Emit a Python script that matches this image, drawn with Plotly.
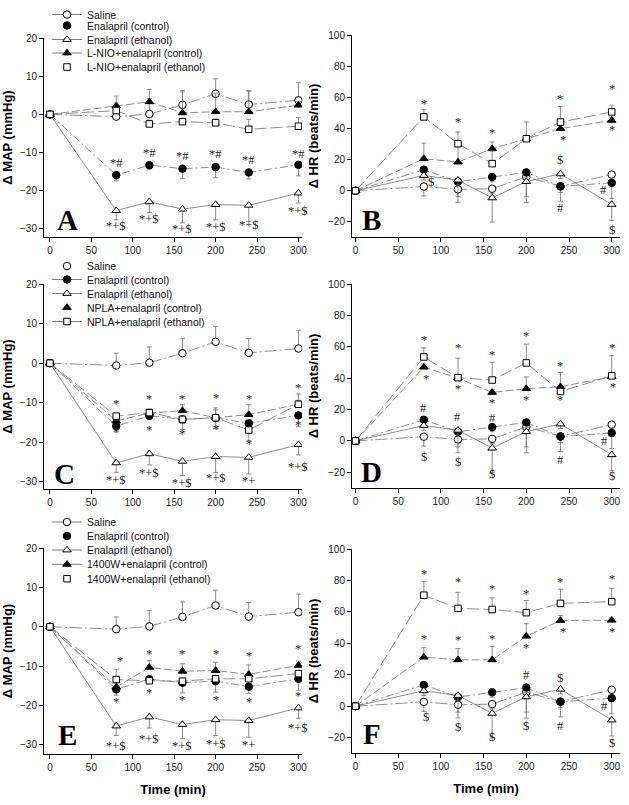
import plotly.graph_objects as go

W, H = 629, 805

# ---------------- data ----------------
TIME = [0, 80, 120, 160, 200, 240, 300]
X_TICKS = [0, 50, 100, 150, 200, 250, 300]
MAP_TICKS = [-30, -20, -10, 0, 10, 20]
HR_TICKS = [-20, 0, 20, 40, 60, 80, 100]

# MAP (mmHg) - common groups
saline_map = [0, -0.6, 0.1, 2.5, 5.4, 2.6, 3.7]
saline_map_up = [0, 3.1, 4.0, 3.8, 3.9, 3.6, 4.6]
enal_ctrl_map = [0, -15.9, -13.3, -14.2, -13.8, -15.2, -13.2]
enal_ctrl_map_dn = [0, 1.5, 1.0, 2.6, 2.8, 1.7, 2.9]
enal_eth_map = [0, -25.2, -22.9, -24.8, -23.6, -23.8, -20.6]
enal_eth_map_dn = [0, 2.4, 2.8, 3.6, 4.0, 4.2, 2.6]

# HR (beats/min) - common groups
saline_hr = [0, 2.7, 0.9, 1.3, 8.9, 2.9, 10.4]
saline_hr_dn = [0, 6.0, 4.7, 3.0, 12.7, 4.0, 4.0]
enal_ctrl_hr = [0, 13.5, 5.8, 8.8, 11.8, 2.8, 5.1]
enal_ctrl_hr_dn = [0, 3.0, 13.3, 3.0, 3.0, 9.6, 10.0]
enal_eth_hr = [0, 9.8, 6.8, -4.6, 5.9, 10.8, -8.8]
enal_eth_hr_dn = [0, 3.0, 3.0, 15.5, 13.5, 3.0, 10.2]

# L-NIO (panels A, B)
lnio_ctrl_map = [0, 2.2, 3.3, 0.4, 0.7, 0.7, 2.4]
lnio_ctrl_map_up = [0, 2.6, 3.2, 5.5, 4.8, 5.4, 1.0]
lnio_eth_map = [0, 1.0, -2.5, -1.9, -2.2, -3.9, -3.1]
lnio_eth_map_up = [0, 0.8, 1.0, 0.8, 1.0, 2.6, 2.3]
lnio_ctrl_hr = [0, 20.6, 18.4, 27.0, 33.4, 39.9, 45.2]
lnio_ctrl_hr_up = [0, 10.0, 11.0, 4.3, 2.0, 3.0, 2.0]
lnio_eth_hr = [0, 47.4, 30.2, 17.4, 33.4, 44.1, 50.6]
lnio_eth_hr_up = [0, 4.6, 7.5, 8.0, 10.7, 10.0, 4.3]

# NPLA (panels C, D)
npla_ctrl_map = [0, -14.6, -12.6, -12.0, -13.8, -13.0, -10.4]
npla_ctrl_map_up = [0, 1.0, 1.0, 1.6, 2.5, 2.5, 1.0]
npla_eth_map = [0, -13.4, -12.5, -14.2, -13.8, -16.9, -10.4]
npla_eth_map_up = [0, 0, 0, 0, 2.0, 0, 2.6]
npla_eth_map_dn = [0, 1.0, 0.8, 1.0, 0, 2.7, 0]
npla_ctrl_hr = [0, 47.0, 40.0, 30.9, 33.3, 34.5, 41.0]
npla_ctrl_hr_up = [0, 2.0, 2.0, 2.0, 7.5, 9.1, 2.0]
npla_eth_hr = [0, 53.5, 40.3, 38.8, 49.7, 31.5, 41.5]
npla_eth_hr_up = [0, 5.8, 12.4, 11.3, 12.0, 2.0, 12.8]

# 1400W (panels E, F)
w1400_ctrl_map = [0, -15.3, -10.3, -11.3, -11.1, -12.1, -9.8]
w1400_ctrl_map_up = [0, 1.0, 1.7, 1.9, 2.1, 2.4, 1.1]
w1400_eth_map = [0, -13.4, -13.7, -13.8, -13.2, -13.2, -11.9]
w1400_eth_map_up = [0, 2.6, 0.5, 0.5, 0.5, 0.5, 0.5]
w1400_ctrl_hr = [0, 31.2, 29.5, 29.5, 44.5, 54.5, 54.7]
w1400_ctrl_hr_up = [0, 6.0, 7.1, 8.5, 8.0, 3.2, 1.0]
w1400_eth_hr = [0, 70.6, 62.2, 61.5, 59.5, 65.4, 66.5]
w1400_eth_hr_up = [0, 8.6, 10.2, 7.4, 7.7, 9.0, 8.5]

# significance labels (text, time, value)
SIG_A = [("*#", 80, -12.6), ("*#", 120, -10.1), ("*#", 160, -11.0), ("*#", 200, -10.3),
         ("*#", 240, -12.0), ("*#", 300, -10.3),
         ("*+$", 80, -29.2), ("*+$", 120, -27.3), ("*+$", 160, -30.0), ("*+$", 200, -29.4),
         ("*+$", 240, -29.0), ("*+$", 300, -25.3)]
SIG_B = [("*", 80, 55.9), ("*", 120, 44.1), ("*", 160, 37.1), ("*", 240, 59.1), ("*", 300, 65.6),
         ("*", 243, 32.4), ("*", 300, 38.8),
         ("$", 88, 5.6), ("$", 240, 19.5), ("#", 240, -11.1), ("#", 290, 0.2), ("$", 300, -25.5)]
SIG_C = [("*", 80, -10.4), ("*", 120, -9.1), ("*", 160, -9.1), ("*", 200, -8.7), ("*", 240, -9.1),
         ("*", 300, -6.3),
         ("*", 80, -17.5), ("*", 120, -17.0), ("*", 160, -18.0), ("*", 200, -16.6), ("*", 240, -20.4),
         ("*", 300, -15.6),
         ("*+$", 80, -29.5), ("*+$", 120, -27.7), ("*+$", 160, -30.4), ("*+$", 200, -29.1),
         ("*+", 240, -29.7), ("*+$", 300, -26.3)]
SIG_D = [("*", 80, 64.4), ("*", 120, 59.5), ("*", 160, 54.8), ("*", 200, 66.9), ("*", 240, 47.8),
         ("*", 300, 59.5),
         ("*", 83, 39.3), ("*", 120, 33.0), ("*", 160, 24.0), ("*", 200, 26.1), ("*", 240, 26.1),
         ("*", 302, 34.6),
         ("#", 80, 20.7), ("#", 120, 15.0), ("#", 160, 14.5),
         ("$", 80, -10.1), ("$", 120, -13.3), ("$", 160, -21.2),
         ("#", 240, -12.2), ("#", 291, 0.0), ("$", 300, -22.2)]
SIG_E = [("*", 84, -8.7), ("*", 120, -6.9), ("*", 160, -6.9), ("*", 200, -6.9), ("*", 240, -7.5),
         ("*", 300, -5.6),
         ("*", 80, -19.2), ("*", 120, -16.8), ("*", 160, -18.5), ("*", 200, -18.5), ("*", 240, -19.2),
         ("*", 300, -17.6),
         ("*+$", 80, -30.3), ("*+$", 120, -28.5), ("*+$", 160, -30.3), ("*+$", 200, -29.7),
         ("*+", 240, -29.9), ("*+$", 300, -25.7)]
SIG_F = [("*", 80, 83.8), ("*", 120, 78.8), ("*", 160, 74.6), ("*", 200, 71.4), ("*", 240, 78.8),
         ("*", 300, 81.0),
         ("*", 80, 42.7), ("*", 120, 42.1), ("*", 160, 42.7),
         ("*", 200, 37.2), ("*", 243, 47.0), ("*", 300, 47.0),
         ("#", 200, 19.7), ("$", 240, 18.2),
         ("$", 82, -7.0), ("$", 120, -13.5), ("$", 160, -19.9), ("$", 200, -12.8),
         ("#", 240, -12.4), ("#", 291, 0.0), ("$", 300, -23.7)]

# ---------------- styles ----------------
LINE_C = "#707070"
ERR_C = "#707070"
SANS = "Liberation Sans, Arial, sans-serif"
SERIF = "Liberation Serif, Times New Roman, serif"

STY = {
    "saline": dict(symbol="circle-open", fill="white", dash="12px,3px,2px,3px"),
    "enal_ctrl": dict(symbol="circle", fill="black", dash="8px,3px,2px,3px"),
    "enal_eth": dict(symbol="triangle-up-open", fill="white", dash="solid"),
    "grp_ctrl": dict(symbol="triangle-up", fill="black", dash="8px,3px"),
    "grp_eth": dict(symbol="square-open", fill="white", dash="12px,4px"),
}


def marker(key):
    s = STY[key]
    sym = s["symbol"].replace("-open", "")
    size = 6.5 if sym == "square" else 7.5
    return dict(symbol=sym, size=size, color=s["fill"], line=dict(color="black", width=1))


def series(fig, key, y, up, dn, xa, ya):
    err = dict(type="data", symmetric=False, array=up, arrayminus=dn,
               color=ERR_C, thickness=0.8, width=2.5)
    fig.add_trace(go.Scatter(
        x=TIME, y=y, mode="lines+markers", xaxis=xa, yaxis=ya, showlegend=False,
        line=dict(color=LINE_C, width=0.8, dash=STY[key]["dash"]),
        marker=marker(key), error_y=err, hoverinfo="skip"))


def legend_entry(fig, key, name, with_line, legend_id, xa, ya):
    fig.add_trace(go.Scatter(
        x=[None], y=[None], mode="lines+markers" if with_line else "markers",
        name=name, legend=legend_id, xaxis=xa, yaxis=ya, showlegend=True,
        line=dict(color=LINE_C, width=0.9), marker=marker(key)))


ZEROS = [0] * 7
fig = go.Figure()

panels = [
    # (xa, ya, kind, ctrl, ctrl_up, eth, eth_up, eth_dn)
    ("x", "y", "map", lnio_ctrl_map, lnio_ctrl_map_up, lnio_eth_map, lnio_eth_map_up, ZEROS),
    ("x2", "y2", "hr", lnio_ctrl_hr, lnio_ctrl_hr_up, lnio_eth_hr, lnio_eth_hr_up, ZEROS),
    ("x3", "y3", "map", npla_ctrl_map, npla_ctrl_map_up, npla_eth_map, npla_eth_map_up, npla_eth_map_dn),
    ("x4", "y4", "hr", npla_ctrl_hr, npla_ctrl_hr_up, npla_eth_hr, npla_eth_hr_up, ZEROS),
    ("x5", "y5", "map", w1400_ctrl_map, w1400_ctrl_map_up, w1400_eth_map, w1400_eth_map_up, ZEROS),
    ("x6", "y6", "hr", w1400_ctrl_hr, w1400_ctrl_hr_up, w1400_eth_hr, w1400_eth_hr_up, ZEROS),
]

for xa, ya, kind, c, cu, e, eu, ed in panels:
    if kind == "map":
        series(fig, "saline", saline_map, saline_map_up, ZEROS, xa, ya)
        series(fig, "enal_ctrl", enal_ctrl_map, ZEROS, enal_ctrl_map_dn, xa, ya)
        series(fig, "enal_eth", enal_eth_map, ZEROS, enal_eth_map_dn, xa, ya)
    else:
        series(fig, "saline", saline_hr, ZEROS, saline_hr_dn, xa, ya)
        series(fig, "enal_ctrl", enal_ctrl_hr, ZEROS, enal_ctrl_hr_dn, xa, ya)
        series(fig, "enal_eth", enal_eth_hr, ZEROS, enal_eth_hr_dn, xa, ya)
    series(fig, "grp_ctrl", c, cu, ZEROS, xa, ya)
    series(fig, "grp_eth", e, eu, ed, xa, ya)

# legends (one entry per legend to reproduce the tight spacing)
LEGENDS = [
    ("x", "y", "L-NIO", [True, False, True, True, False], [12.5, 25.5, 39.5, 53, 67]),
    ("x3", "y3", "NPLA", [False, True, True, False, True], [266, 279.5, 293.5, 307.5, 321.5]),
    ("x5", "y5", "1400W", [True, False, True, True, False], [522, 536, 550, 564.3, 578.7]),
]
ITEM_OFF = 14.5  # distance from legend box top to the entry centre (px)
layout_legends = {}
n = 0
for xa, ya, drug, lines, ys in LEGENDS:
    names = ["Saline", "Enalapril (control)", "Enalapril (ethanol)",
             f"{drug}+enalapril (control)", f"{drug}+enalapril (ethanol)"]
    keys = ["saline", "enal_ctrl", "enal_eth", "grp_ctrl", "grp_eth"]
    for k, nm, wl, yp in zip(keys, names, lines, ys):
        n += 1
        lid = "legend" if n == 1 else f"legend{n}"
        legend_entry(fig, k, nm, wl, lid, xa, ya)
        layout_legends[lid] = dict(
            x=47 / W, y=min(1.0, 1 - (yp - ITEM_OFF) / H), xanchor="left", yanchor="top",
            bgcolor="rgba(0,0,0,0)", borderwidth=0,
            font=dict(family=SANS, size=10.5, color="#111"))

# ---------------- axes ----------------
def dom_y(top, bottom):
    return [1 - bottom / H, 1 - top / H]


LEFT = [44 / W, 302 / W]
RIGHT = [352 / W, 620 / W]
XR_L = [-7.2, 304.3]
XR_R = [-4.1, 309.7]

axis_common = dict(showline=True, linecolor="black", linewidth=1, ticks="outside",
                   ticklen=4, tickwidth=1, tickcolor="black", showgrid=False,
                   zeroline=False, automargin=False,
                   tickfont=dict(family=SANS, size=10, color="#222"))
title_font = dict(family=SANS, size=13, color="black", weight="bold")

specs = [
    ("xaxis", "yaxis", LEFT, XR_L, dom_y(38, 237), [-32.1, 20.0], MAP_TICKS, "Δ MAP (mmHg)", False),
    ("xaxis2", "yaxis2", RIGHT, XR_R, dom_y(35, 237), [-29.7, 100], HR_TICKS, "Δ HR (beats/min)", False),
    ("xaxis3", "yaxis3", LEFT, XR_L, dom_y(284, 489), [-31.8, 20.0], MAP_TICKS, "Δ MAP (mmHg)", False),
    ("xaxis4", "yaxis4", RIGHT, XR_R, dom_y(284, 488), [-30, 100], HR_TICKS, "Δ HR (beats/min)", False),
    ("xaxis5", "yaxis5", LEFT, XR_L, dom_y(548, 754), [-32.3, 20.0], MAP_TICKS, "Δ MAP (mmHg)", True),
    ("xaxis6", "yaxis6", RIGHT, XR_R, dom_y(549, 753), [-29.8, 100], HR_TICKS, "Δ HR (beats/min)", True),
]
layout_axes = {}
for i, (xk, yk, xd, xr, yd, yr, yt, ytitle, show_xt) in enumerate(specs):
    anc_x = "x" if i == 0 else f"x{i + 1}"
    anc_y = "y" if i == 0 else f"y{i + 1}"
    layout_axes[xk] = dict(axis_common, domain=xd, range=xr, tickvals=X_TICKS, anchor=anc_y,
                           title=dict(text="Time (min)" if show_xt else "", font=title_font,
                                      standoff=12))
    layout_axes[yk] = dict(axis_common, domain=yd, range=yr, tickvals=yt, anchor=anc_x,
                           title=dict(text=ytitle, font=title_font, standoff=6))

# ---------------- annotations ----------------
annotations = []
LETTERS = [("A", 21, -27.6), ("B", 19, -18.7), ("C", 17, -27.9),
           ("D", 19, -19.6), ("E", 21, -27.5), ("F", 19, -17.5)]
SIGS = [SIG_A, SIG_B, SIG_C, SIG_D, SIG_E, SIG_F]
for i, ((letter, lx, ly), sig) in enumerate(zip(LETTERS, SIGS)):
    xr = "x" if i == 0 else f"x{i + 1}"
    yr = "y" if i == 0 else f"y{i + 1}"
    annotations.append(dict(text=letter, x=lx, y=ly, xref=xr, yref=yr, showarrow=False,
                            font=dict(family=SERIF, size=29, color="black", weight="bold")))
    for txt, tx, ty in sig:
        annotations.append(dict(text=txt, x=tx, y=ty, xref=xr, yref=yr, showarrow=False,
                                font=dict(family=SERIF, size=12.5, color="#222")))

fig.update_layout(
    width=W, height=H, margin=dict(l=0, r=0, t=0, b=0, autoexpand=False),
    paper_bgcolor="white", plot_bgcolor="white",
    font=dict(family=SANS, color="black"),
    annotations=annotations,
    **layout_axes, **layout_legends,
)

fig.write_html("out.html", config={"displayModeBar": False},
               post_script="document.body.style.margin='0';document.body.style.padding='0';")
